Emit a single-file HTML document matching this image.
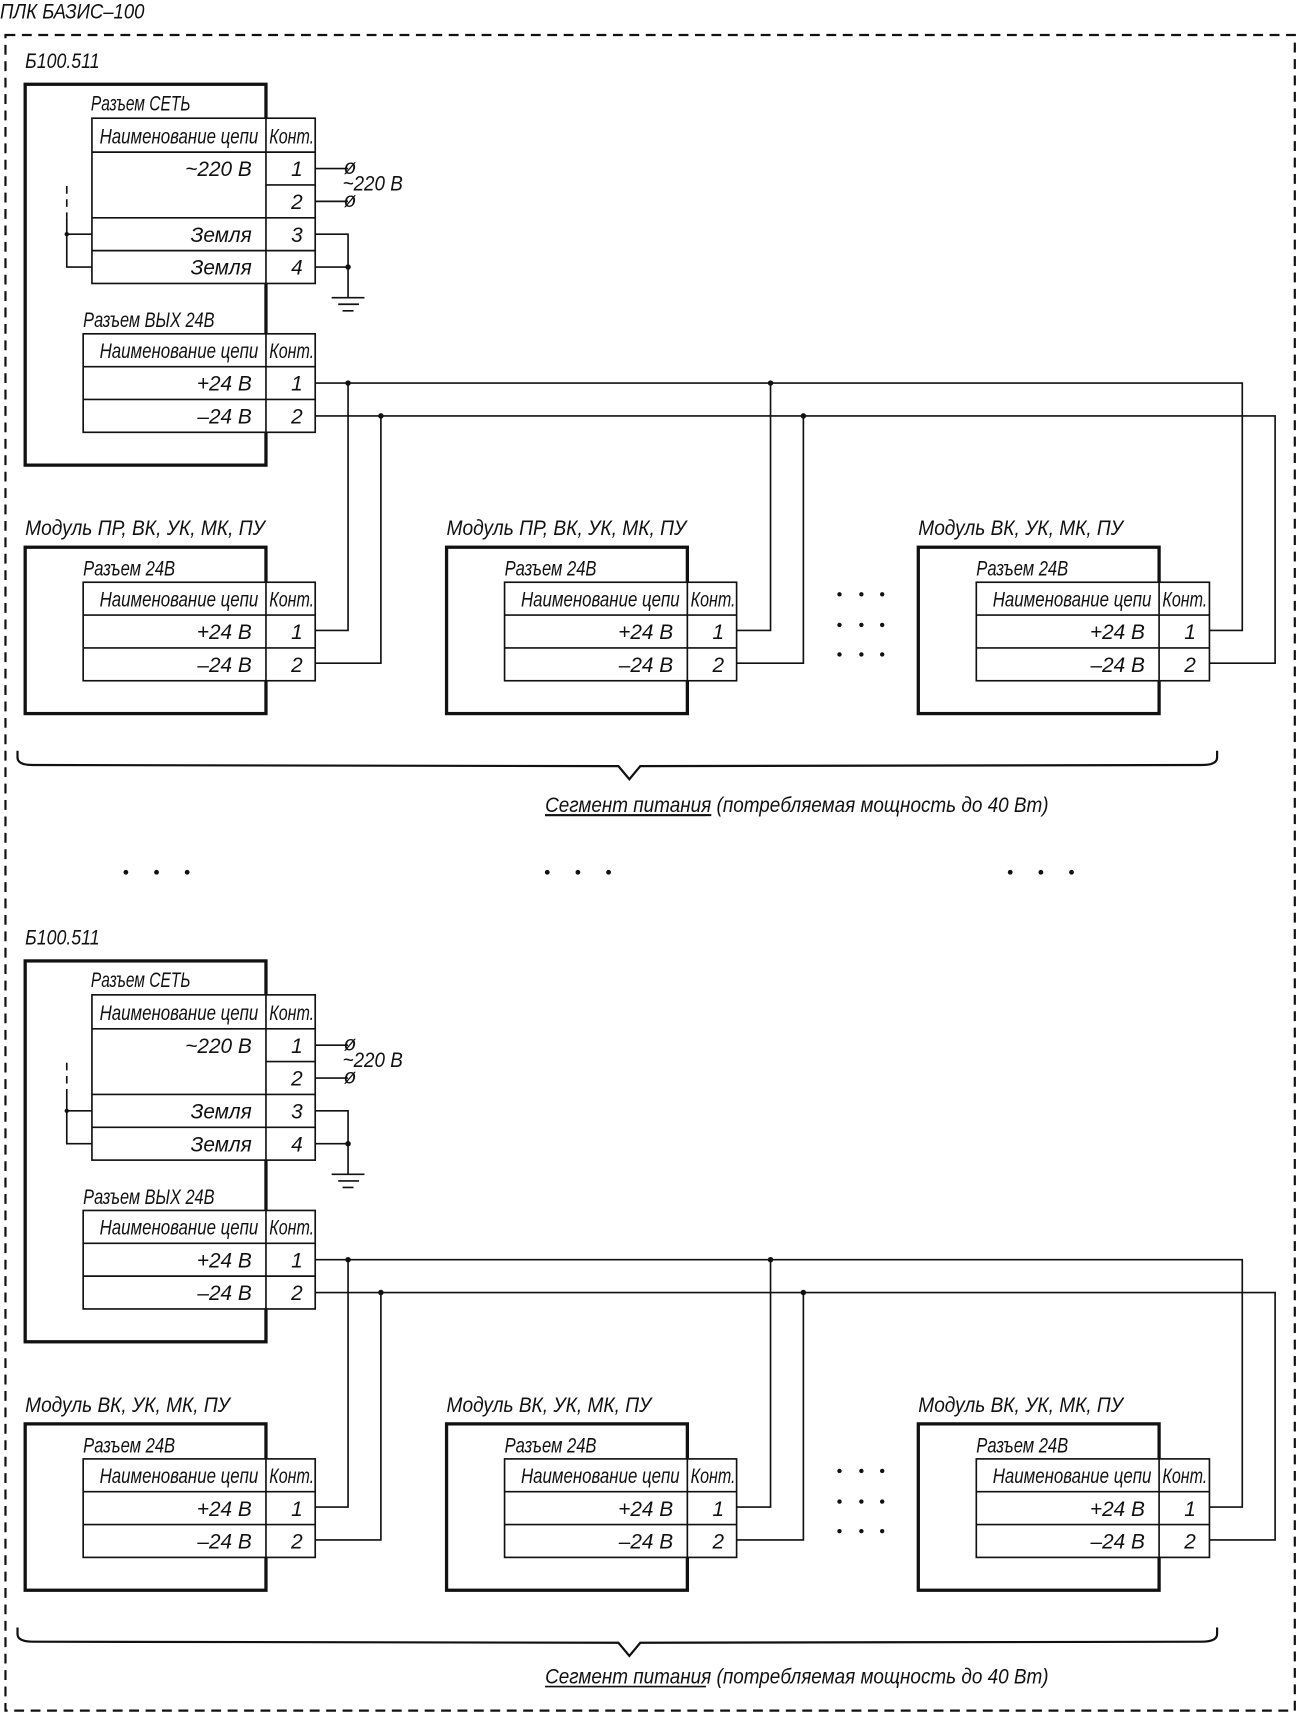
<!DOCTYPE html>
<html><head><meta charset="utf-8"><style>
html,body{margin:0;padding:0;background:#fff;}
svg{display:block}
text{font-family:"Liberation Sans",sans-serif;font-style:italic;fill:#111;font-size:19px}
</style></head><body>
<svg width="1297" height="1715" viewBox="0 0 1185 1567" preserveAspectRatio="none" xmlns="http://www.w3.org/2000/svg">
<g fill="none" stroke="#111">
<path d="M5 32 H1183 V1563 H5 Z" stroke-width="2" stroke-dasharray="9,6"/>
</g>
<text x="0" y="17" textLength="132" lengthAdjust="spacingAndGlyphs" font-size="20">ПЛК БАЗИС–100</text>

<g id="b1">
<text x="23" y="62" textLength="68" lengthAdjust="spacingAndGlyphs" font-size="20">Б100.511</text>
<g fill="none" stroke="#111" stroke-width="1.5">
<rect x="23" y="77" width="220" height="348" stroke-width="3"/>
<rect x="84" y="108" width="204" height="151" fill="#fff"/>
<path d="M243 108V259M84 139H288M243 169H288M84 199H288M84 229H288"/>
<rect x="76" y="305" width="212" height="90" fill="#fff"/>
<path d="M243 305V395M76 335H288M76 365H288"/>
<path d="M288 154H318M288 184H318M288 214H318V272M288 244H318"/>
<path d="M303 272H333M309 278H328M313 284H323"/>
<path d="M61 170V199" stroke-dasharray="7,5"/>
<path d="M61 199V244H84M61 214H84"/>
<path d="M288 350H1135V576H1105M288 380H1165V606H1105"/>
<path d="M318 350V576H288M348 380V606H288M704 350V576H673M734 380V606H673"/>
<!-- modules -->
<rect x="23" y="500" width="220" height="152" stroke-width="3"/>
<rect x="76" y="532" width="212" height="90" fill="#fff"/>
<path d="M243 532V622M76 562H288M76 592H288"/>
<rect x="408" y="500" width="220" height="152" stroke-width="3"/>
<rect x="461" y="532" width="212" height="90" fill="#fff"/>
<path d="M628 532V622M461 562H673M461 592H673"/>
<rect x="839" y="500" width="220" height="152" stroke-width="3"/>
<rect x="892" y="532" width="213" height="90" fill="#fff"/>
<path d="M1059 532V622M892 562H1105M892 592H1105"/>
<!-- brace -->
<path d="M16 686 V692 Q16 699 30 699 L565 700 L575 712 L585 700 L1098 699 Q1112 699 1112 692 V686" stroke-width="2"/>
</g>
<g fill="#111">
<circle cx="318" cy="244" r="2.5"/><circle cx="61" cy="214" r="2"/>
<circle cx="318" cy="350" r="2.5"/><circle cx="348" cy="380" r="2.5"/>
<circle cx="704" cy="350" r="2.5"/><circle cx="734" cy="380" r="2.5"/>
<circle cx="767" cy="543" r="2"/><circle cx="787" cy="543" r="2"/><circle cx="806" cy="543" r="2"/>
<circle cx="767" cy="571" r="2"/><circle cx="787" cy="571" r="2"/><circle cx="806" cy="571" r="2"/>
<circle cx="767" cy="598" r="2"/><circle cx="787" cy="598" r="2"/><circle cx="806" cy="598" r="2"/>
</g>
<text x="314" y="159" font-size="13">ø</text><text x="314" y="189" font-size="13">ø</text>
<text x="313" y="174" textLength="55" lengthAdjust="spacingAndGlyphs">~220 В</text>
<text x="83" y="101" textLength="91" lengthAdjust="spacingAndGlyphs">Разъем СЕТЬ</text>
<text x="91" y="131" textLength="145" lengthAdjust="spacingAndGlyphs">Наименование цепи</text>
<text x="246" y="131" textLength="41" lengthAdjust="spacingAndGlyphs">Конт.</text>
<text x="230" y="161" text-anchor="end">~220 В</text><text x="266" y="161">1</text>
<text x="266" y="191">2</text>
<text x="230" y="221" text-anchor="end">Земля</text><text x="266" y="221">3</text>
<text x="230" y="251" text-anchor="end">Земля</text><text x="266" y="251">4</text>
<text x="76" y="299" textLength="120" lengthAdjust="spacingAndGlyphs">Разъем ВЫХ 24В</text>
<text x="91" y="327" textLength="145" lengthAdjust="spacingAndGlyphs">Наименование цепи</text>
<text x="246" y="327" textLength="41" lengthAdjust="spacingAndGlyphs">Конт.</text>
<text x="230" y="357" text-anchor="end">+24 В</text><text x="266" y="357">1</text>
<text x="230" y="387" text-anchor="end">–24 В</text><text x="266" y="387">2</text>
</g>

<!-- module texts block 1 -->
<text x="23" y="489" textLength="219" lengthAdjust="spacingAndGlyphs" font-size="21">Модуль ПР, ВК, УК, МК, ПУ</text>
<text x="408" y="489" textLength="219" lengthAdjust="spacingAndGlyphs" font-size="21">Модуль ПР, ВК, УК, МК, ПУ</text>
<text x="839" y="489" textLength="187" lengthAdjust="spacingAndGlyphs" font-size="21">Модуль ВК, УК, МК, ПУ</text>
<g id="m1">
<text x="76" y="526" textLength="84" lengthAdjust="spacingAndGlyphs">Разъем 24В</text>
<text x="91" y="554" textLength="145" lengthAdjust="spacingAndGlyphs">Наименование цепи</text>
<text x="246" y="554" textLength="41" lengthAdjust="spacingAndGlyphs">Конт.</text>
<text x="230" y="584" text-anchor="end">+24 В</text><text x="266" y="584">1</text>
<text x="230" y="614" text-anchor="end">–24 В</text><text x="266" y="614">2</text>
<text x="461" y="526" textLength="84" lengthAdjust="spacingAndGlyphs">Разъем 24В</text>
<text x="476" y="554" textLength="145" lengthAdjust="spacingAndGlyphs">Наименование цепи</text>
<text x="631" y="554" textLength="41" lengthAdjust="spacingAndGlyphs">Конт.</text>
<text x="615" y="584" text-anchor="end">+24 В</text><text x="651" y="584">1</text>
<text x="615" y="614" text-anchor="end">–24 В</text><text x="651" y="614">2</text>
<text x="892" y="526" textLength="84" lengthAdjust="spacingAndGlyphs">Разъем 24В</text>
<text x="907" y="554" textLength="145" lengthAdjust="spacingAndGlyphs">Наименование цепи</text>
<text x="1062" y="554" textLength="41" lengthAdjust="spacingAndGlyphs">Конт.</text>
<text x="1046" y="584" text-anchor="end">+24 В</text><text x="1082" y="584">1</text>
<text x="1046" y="614" text-anchor="end">–24 В</text><text x="1082" y="614">2</text>
<text x="498" y="742" textLength="460" lengthAdjust="spacingAndGlyphs" font-size="20"><tspan text-decoration="underline">Сегмент питания</tspan> (потребляемая мощность до 40 Вт)</text>
<line x1="498" y1="745" x2="645" y2="745" stroke="#111" stroke-width="1.5"/>
</g>

<g fill="#111">
<circle cx="115" cy="797" r="2.2"/><circle cx="143" cy="797" r="2.2"/><circle cx="171" cy="797" r="2.2"/>
<circle cx="500" cy="797" r="2.2"/><circle cx="528" cy="797" r="2.2"/><circle cx="556" cy="797" r="2.2"/>
<circle cx="923" cy="797" r="2.2"/><circle cx="951" cy="797" r="2.2"/><circle cx="979" cy="797" r="2.2"/>
</g>

<!-- second block -->
<g transform="translate(0,801)">
<text x="23" y="62" textLength="68" lengthAdjust="spacingAndGlyphs" font-size="20">Б100.511</text>
<g fill="none" stroke="#111" stroke-width="1.5">
<rect x="23" y="77" width="220" height="348" stroke-width="3"/>
<rect x="84" y="108" width="204" height="151" fill="#fff"/>
<path d="M243 108V259M84 139H288M243 169H288M84 199H288M84 229H288"/>
<rect x="76" y="305" width="212" height="90" fill="#fff"/>
<path d="M243 305V395M76 335H288M76 365H288"/>
<path d="M288 154H318M288 184H318M288 214H318V272M288 244H318"/>
<path d="M303 272H333M309 278H328M313 284H323"/>
<path d="M61 170V199" stroke-dasharray="7,5"/>
<path d="M61 199V244H84M61 214H84"/>
<path d="M288 350H1135V576H1105M288 380H1165V606H1105"/>
<path d="M318 350V576H288M348 380V606H288M704 350V576H673M734 380V606H673"/>
<rect x="23" y="500" width="220" height="152" stroke-width="3"/>
<rect x="76" y="532" width="212" height="90" fill="#fff"/>
<path d="M243 532V622M76 562H288M76 592H288"/>
<rect x="408" y="500" width="220" height="152" stroke-width="3"/>
<rect x="461" y="532" width="212" height="90" fill="#fff"/>
<path d="M628 532V622M461 562H673M461 592H673"/>
<rect x="839" y="500" width="220" height="152" stroke-width="3"/>
<rect x="892" y="532" width="213" height="90" fill="#fff"/>
<path d="M1059 532V622M892 562H1105M892 592H1105"/>
<path d="M16 686 V692 Q16 699 30 699 L565 700 L575 712 L585 700 L1098 699 Q1112 699 1112 692 V686" stroke-width="2"/>
</g>
<g fill="#111">
<circle cx="318" cy="244" r="2.5"/><circle cx="61" cy="214" r="2"/>
<circle cx="318" cy="350" r="2.5"/><circle cx="348" cy="380" r="2.5"/>
<circle cx="704" cy="350" r="2.5"/><circle cx="734" cy="380" r="2.5"/>
<circle cx="767" cy="543" r="2"/><circle cx="787" cy="543" r="2"/><circle cx="806" cy="543" r="2"/>
<circle cx="767" cy="571" r="2"/><circle cx="787" cy="571" r="2"/><circle cx="806" cy="571" r="2"/>
<circle cx="767" cy="598" r="2"/><circle cx="787" cy="598" r="2"/><circle cx="806" cy="598" r="2"/>
</g>
<text x="314" y="159" font-size="13">ø</text><text x="314" y="189" font-size="13">ø</text>
<text x="313" y="174" textLength="55" lengthAdjust="spacingAndGlyphs">~220 В</text>
<text x="83" y="101" textLength="91" lengthAdjust="spacingAndGlyphs">Разъем СЕТЬ</text>
<text x="91" y="131" textLength="145" lengthAdjust="spacingAndGlyphs">Наименование цепи</text>
<text x="246" y="131" textLength="41" lengthAdjust="spacingAndGlyphs">Конт.</text>
<text x="230" y="161" text-anchor="end">~220 В</text><text x="266" y="161">1</text>
<text x="266" y="191">2</text>
<text x="230" y="221" text-anchor="end">Земля</text><text x="266" y="221">3</text>
<text x="230" y="251" text-anchor="end">Земля</text><text x="266" y="251">4</text>
<text x="76" y="299" textLength="120" lengthAdjust="spacingAndGlyphs">Разъем ВЫХ 24В</text>
<text x="91" y="327" textLength="145" lengthAdjust="spacingAndGlyphs">Наименование цепи</text>
<text x="246" y="327" textLength="41" lengthAdjust="spacingAndGlyphs">Конт.</text>
<text x="230" y="357" text-anchor="end">+24 В</text><text x="266" y="357">1</text>
<text x="230" y="387" text-anchor="end">–24 В</text><text x="266" y="387">2</text>
<text x="23" y="489" textLength="187" lengthAdjust="spacingAndGlyphs" font-size="21">Модуль ВК, УК, МК, ПУ</text>
<text x="408" y="489" textLength="187" lengthAdjust="spacingAndGlyphs" font-size="21">Модуль ВК, УК, МК, ПУ</text>
<text x="839" y="489" textLength="187" lengthAdjust="spacingAndGlyphs" font-size="21">Модуль ВК, УК, МК, ПУ</text>
<text x="76" y="526" textLength="84" lengthAdjust="spacingAndGlyphs">Разъем 24В</text>
<text x="91" y="554" textLength="145" lengthAdjust="spacingAndGlyphs">Наименование цепи</text>
<text x="246" y="554" textLength="41" lengthAdjust="spacingAndGlyphs">Конт.</text>
<text x="230" y="584" text-anchor="end">+24 В</text><text x="266" y="584">1</text>
<text x="230" y="614" text-anchor="end">–24 В</text><text x="266" y="614">2</text>
<text x="461" y="526" textLength="84" lengthAdjust="spacingAndGlyphs">Разъем 24В</text>
<text x="476" y="554" textLength="145" lengthAdjust="spacingAndGlyphs">Наименование цепи</text>
<text x="631" y="554" textLength="41" lengthAdjust="spacingAndGlyphs">Конт.</text>
<text x="615" y="584" text-anchor="end">+24 В</text><text x="651" y="584">1</text>
<text x="615" y="614" text-anchor="end">–24 В</text><text x="651" y="614">2</text>
<text x="892" y="526" textLength="84" lengthAdjust="spacingAndGlyphs">Разъем 24В</text>
<text x="907" y="554" textLength="145" lengthAdjust="spacingAndGlyphs">Наименование цепи</text>
<text x="1062" y="554" textLength="41" lengthAdjust="spacingAndGlyphs">Конт.</text>
<text x="1046" y="584" text-anchor="end">+24 В</text><text x="1082" y="584">1</text>
<text x="1046" y="614" text-anchor="end">–24 В</text><text x="1082" y="614">2</text>
<text x="498" y="737" textLength="460" lengthAdjust="spacingAndGlyphs" font-size="20">Сегмент питания (потребляемая мощность до 40 Вт)</text>
<line x1="498" y1="740" x2="645" y2="740" stroke="#111" stroke-width="1.5"/>
</g>
</svg>
</body></html>
